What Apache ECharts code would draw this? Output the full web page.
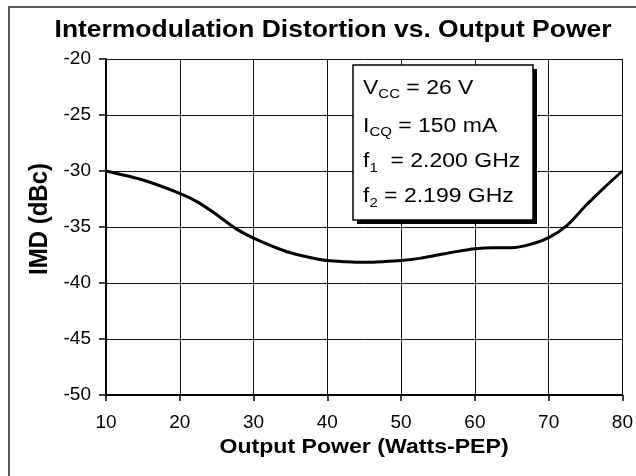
<!DOCTYPE html>
<html><head><meta charset="utf-8">
<script src="https://cdn.jsdelivr.net/npm/echarts@6/dist/echarts.min.js"></script>
<style>html,body{margin:0;padding:0;background:#fff}#c{width:636px;height:476px}</style>
</head><body><div id="c"></div>
<script>
// ---- data ----
const outputPower = [10, 15, 20, 22.5, 25, 27.5, 30, 32.5, 35, 37.5, 40, 42.5, 45, 47.5, 50, 52.5, 55, 57.5, 60, 62.5, 65, 67.5, 70, 72.5, 75, 77.5, 80];
const imd = [-30, -30.8, -32.0, -32.8, -33.9, -35.1, -36.0, -36.7, -37.3, -37.7, -38.0, -38.1, -38.15, -38.1, -38.0, -37.8, -37.5, -37.2, -36.95, -36.85, -36.85, -36.55, -35.95, -34.85, -33.1, -31.5, -30];
const xRange = [10, 80, 10];   // min, max, interval
const yRange = [-50, -20, 5];
const titleText = 'Intermodulation Distortion vs. Output Power';
const xName = 'Output Power (Watts-PEP)';
const yName = 'IMD (dBc)';
const noteLines = [
  '{m|V}{s|CC}{m| = 26 V}',
  '{m|I}{s|CQ}{m| = 150 mA}',
  '{m|f}{s|1}{m|  = 2.200 GHz}',
  '{m|f}{s|2}{m| = 2.199 GHz}'
];

const FONT = "'Liberation Sans', Arial, Helvetica, sans-serif";
const chart = echarts.init(document.getElementById('c'), null, {renderer: 'canvas'});

const noteY = [88, 126, 161.5, 196.5];
const noteRich = {
  m: {fontSize: 20, fontFamily: FONT, fill: '#000', lineHeight: 26, verticalAlign: 'middle'},
  s: {fontSize: 13, fontFamily: FONT, fill: '#000', lineHeight: 13, verticalAlign: 'bottom'}
};

const graphics = [
  {type: 'rect', silent: true, z: 1, shape: {x: 9, y: 7, width: 720, height: 600},
   style: {fill: 'none', stroke: '#5a5a5a', lineWidth: 2}},
  {type: 'text', z: 10, x: 333, y: 31, scaleX: 1.15,
   style: {text: titleText, x: 0, y: 0, textAlign: 'center', textVerticalAlign: 'middle',
           font: 'bold 23px ' + FONT, fill: '#000'}},
  {type: 'text', z: 10, x: 40, y: 219, rotation: Math.PI / 2, scaleY: 1.08,
   style: {text: yName, x: 0, y: 0, textAlign: 'center', textVerticalAlign: 'middle',
           font: 'bold 24px ' + FONT, fill: '#000'}},
  {type: 'text', z: 10, x: 364, y: 447, scaleX: 1.1,
   style: {text: xName, x: 0, y: 0, textAlign: 'center', textVerticalAlign: 'middle',
           font: 'bold 21px ' + FONT, fill: '#000'}},
  {type: 'rect', z: 20, shape: {x: 357, y: 69, width: 180, height: 155}, style: {fill: '#000'}},
  {type: 'rect', z: 21, shape: {x: 353, y: 65, width: 180, height: 155},
   style: {fill: '#fff', stroke: '#000', lineWidth: 1.5}}
];
noteLines.forEach((t, i) => {
  graphics.push({type: 'text', z: 22, x: 363, y: noteY[i], scaleX: 1.15,
    style: {text: t, x: 0, y: 0, textAlign: 'left', textVerticalAlign: 'middle', rich: noteRich}});
});

chart.setOption({
  animation: false,
  backgroundColor: '#fff',
  grid: {left: 106, top: 59, right: 9, bottom: 81, containLabel: false},
  xAxis: {
    type: 'value', min: xRange[0], max: xRange[1], interval: xRange[2],
    axisLine: {show: true, onZero: false, lineStyle: {color: '#000', width: 2}},
    axisTick: {show: true, inside: false, length: 6, lineStyle: {color: '#000', width: 1.5}},
    splitLine: {show: true, lineStyle: {color: '#111', width: 1}},
    axisLabel: {fontSize: 19, fontFamily: FONT, color: '#000', margin: 18}
  },
  yAxis: {
    type: 'value', min: yRange[0], max: yRange[1], interval: yRange[2],
    axisLine: {show: true, onZero: false, lineStyle: {color: '#000', width: 2}},
    axisTick: {show: true, inside: false, length: 7, lineStyle: {color: '#000', width: 1.5}},
    splitLine: {show: true, lineStyle: {color: '#111', width: 1}},
    axisLabel: {fontSize: 19, fontFamily: FONT, color: '#000', margin: 15}
  },
  series: [{
    type: 'line', data: outputPower.map((x, i) => [x, imd[i]]),
    smooth: 0.25, symbol: 'none', clip: false,
    lineStyle: {color: '#000', width: 3}
  }],
  graphic: graphics
});
</script></body></html>
